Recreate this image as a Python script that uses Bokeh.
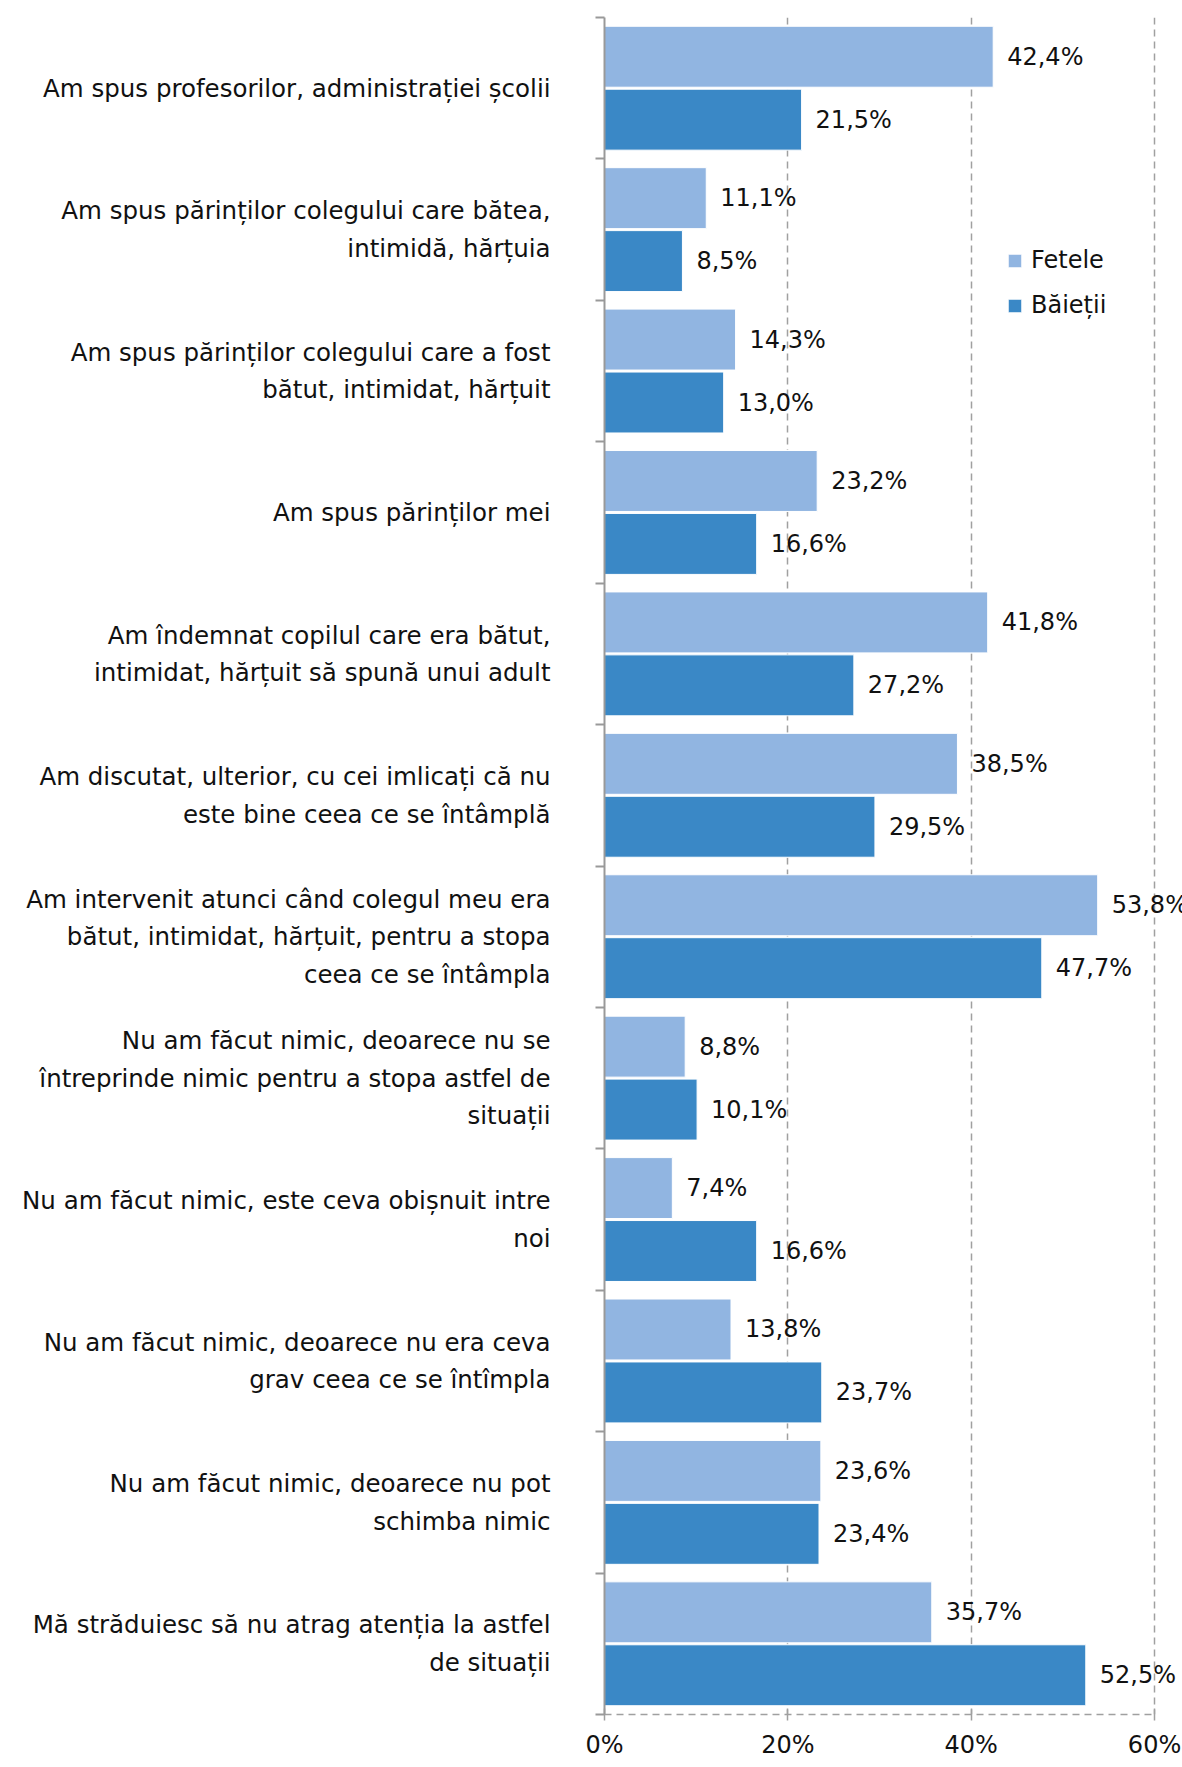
from bokeh.plotting import figure
from bokeh.models import (ColumnDataSource, FixedTicker, LabelSet, Legend,
                          LegendItem, Range1d)
from bokeh.core.properties import value
from bokeh.embed import file_html
from bokeh.resources import INLINE

categories = [
    "Am spus profesorilor, administrației școlii",
    "Am spus părinților colegului care bătea,\nintimidă, hărțuia",
    "Am spus părinților colegului care a fost\nbătut, intimidat, hărțuit",
    "Am spus părinților mei",
    "Am îndemnat copilul care era bătut,\nintimidat, hărțuit să spună unui adult",
    "Am discutat, ulterior, cu cei imlicați că nu\neste bine ceea ce se întâmplă",
    "Am intervenit atunci când colegul meu era\nbătut, intimidat, hărțuit, pentru a stopa\nceea ce se întâmpla",
    "Nu am făcut nimic, deoarece nu se\nîntreprinde nimic pentru a stopa astfel de\nsituații",
    "Nu am făcut nimic, este ceva obișnuit intre\nnoi",
    "Nu am făcut nimic, deoarece nu era ceva\ngrav ceea ce se întîmpla",
    "Nu am făcut nimic, deoarece nu pot\nschimba nimic",
    "Mă străduiesc să nu atrag atenția la astfel\nde situații",
]
fetele = [42.4, 11.1, 14.3, 23.2, 41.8, 38.5, 53.8, 8.8, 7.4, 13.8, 23.6, 35.7]
baietii = [21.5, 8.5, 13.0, 16.6, 27.2, 29.5, 47.7, 10.1, 16.6, 23.7, 23.4, 52.5]
x_ticks = [0, 20, 40, 60]
x_tick_labels = ["0%", "20%", "40%", "60%"]

FONT = "DejaVu Sans"
TEXT = "#111111"
GRID = "#a0a0a0"
LIGHT = "#91b5e1"
DARK = "#3a88c6"


def fmt(v):
    return f"{v:.1f}".replace(".", ",") + "%"


n = len(categories)
idx = list(range(n))
off = 0.2225
src = ColumnDataSource(dict(
    yf=[i - off for i in idx],
    yb=[i + off for i in idx],
    f=fetele,
    b=baietii,
    tf=[fmt(v) for v in fetele],
    tb=[fmt(v) for v in baietii],
))

p = figure(width=1182, height=1767,
           x_range=Range1d(0, 63.05), y_range=Range1d(n - 0.5, -0.5),
           output_backend="svg", toolbar_location=None,
           min_border_left=604, min_border_right=0,
           min_border_top=17, min_border_bottom=53)
p.outline_line_color = None
p.background_fill_color = "white"

rf = p.hbar(y="yf", right="f", left=0, height=0.431, source=src,
            fill_color=LIGHT, line_color="white", line_width=1)
rb = p.hbar(y="yb", right="b", left=0, height=0.431, source=src,
            fill_color=DARK, line_color="white", line_width=1)

for col, tcol, ycol in (("f", "tf", "yf"), ("b", "tb", "yb")):
    p.add_layout(LabelSet(x=col, y=ycol, text=tcol, source=src, x_offset=14,
                          text_baseline="middle", text_align="left",
                          text_font=value(FONT), text_font_size="24px",
                          text_color=TEXT))

# x axis
xt = FixedTicker(ticks=x_ticks)
xa = p.xaxis[0]
xa.ticker = xt
xa.bounds = (0, 60)
xa.major_label_overrides = {t: l for t, l in zip(x_ticks, x_tick_labels)}
xa.axis_line_color = GRID
xa.axis_line_width = 1.5
xa.axis_line_dash = "7 5"
xa.major_tick_line_color = GRID
xa.major_tick_line_width = 1.5
xa.major_tick_in = 6
xa.major_tick_out = 6
xa.minor_tick_line_color = None
xa.major_label_standoff = 10
xa.major_label_text_font = FONT
xa.major_label_text_font_size = "24px"
xa.major_label_text_color = TEXT

p.xgrid.ticker = xt
p.xgrid.grid_line_color = GRID
p.xgrid.grid_line_width = 1.5
p.xgrid.grid_line_dash = "7 5"
p.ygrid.grid_line_color = None

# y axis
ya = p.yaxis[0]
ya.ticker = FixedTicker(ticks=idx, minor_ticks=[i - 0.5 for i in range(n + 1)])
ya.major_label_overrides = {i: c for i, c in zip(idx, categories)}
ya.axis_line_color = "#999999"
ya.axis_line_width = 2
ya.major_tick_line_color = None
ya.major_tick_in = 0
ya.major_tick_out = 0
ya.minor_tick_line_color = "#999999"
ya.minor_tick_line_width = 2
ya.minor_tick_in = 0
ya.minor_tick_out = 9
ya.major_label_standoff = 45
ya.major_label_text_font = FONT
ya.major_label_text_font_size = "24.5px"
ya.major_label_text_color = TEXT
ya.major_label_text_line_height = 1.3

legend = Legend(items=[LegendItem(label="Fetele", renderers=[rf]),
                       LegendItem(label="Băieții", renderers=[rb])],
                location=(402, 1394), orientation="vertical",
                glyph_width=17, glyph_height=17, label_height=30,
                spacing=15, padding=0, margin=0, label_standoff=8,
                label_text_font=FONT, label_text_font_size="24px",
                label_text_color=TEXT, border_line_color=None,
                background_fill_alpha=0)
p.add_layout(legend)

open("out.html", "w").write(file_html(p, INLINE))
